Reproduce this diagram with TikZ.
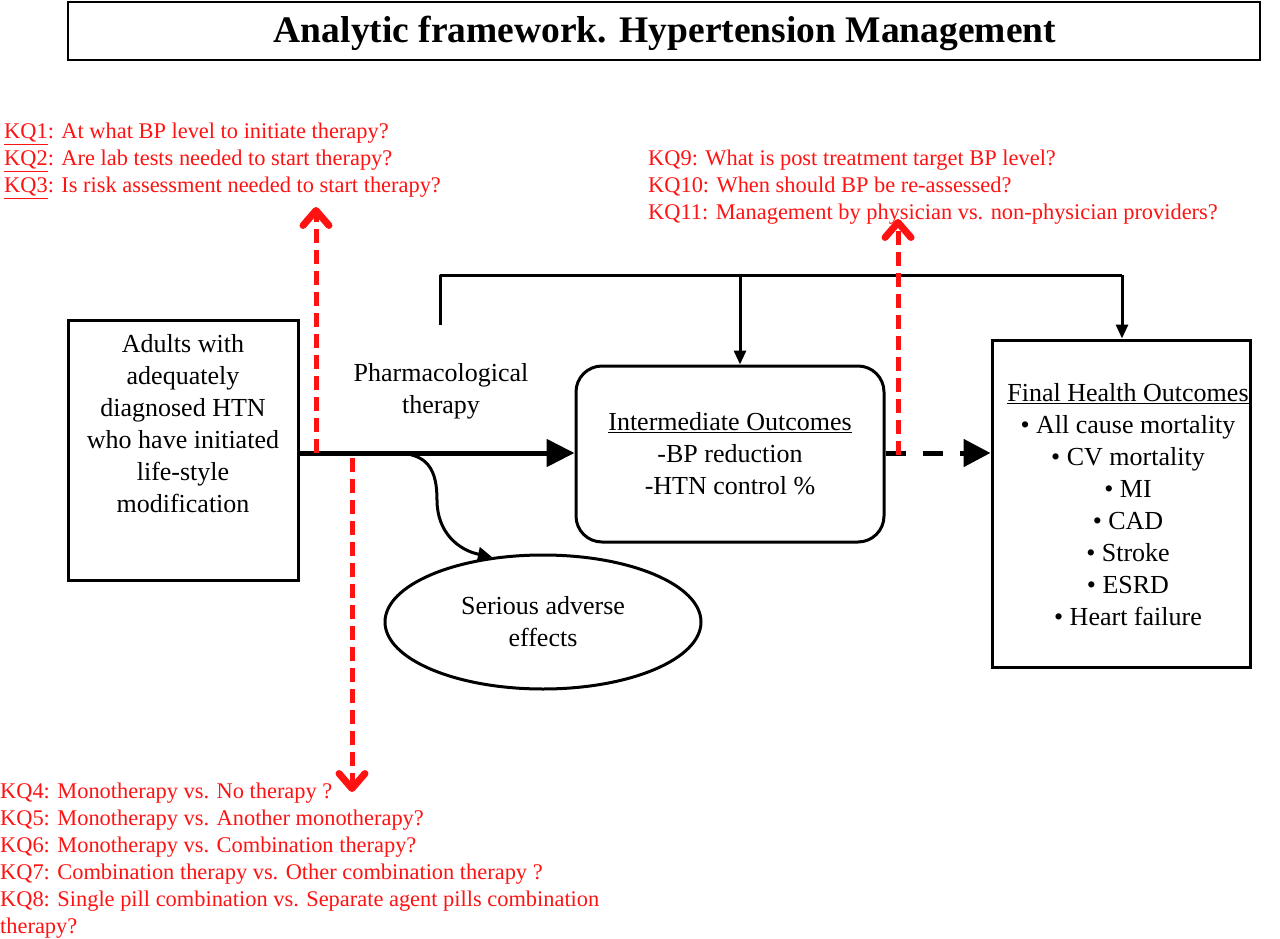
\documentclass[tikz,border=0pt]{standalone}
\usepackage{fontspec}
\setmainfont{Liberation Serif}
\usetikzlibrary{arrows.meta,shapes.geometric}
\definecolor{kqred}{RGB}{255,18,18}
\tikzset{
  box/.style={draw=black, line width=3pt, inner sep=0pt},
  body/.style={font=\fontsize{26}{32}\selectfont, align=center, inner sep=0pt},
  kq/.style={text=kqred, font=\fontsize{22.4}{27}\selectfont, align=left, inner sep=0pt, anchor=north west},
  reddash/.style={draw=kqred, line width=5pt, dash pattern=on 14pt off 7pt,
    -{Straight Barb[length=15pt,width=26pt,line width=7pt,line cap=round,line join=round]}},
  thinarrow/.style={line width=3pt, -{Triangle[length=14pt,width=12pt]}},
}
\begin{document}
\begin{tikzpicture}[x=1pt,y=-1pt]
\useasboundingbox (0,0) rectangle (1280,939);
% title
\node[draw=black, line width=1.5pt, minimum width=1192pt, minimum height=58pt, inner sep=0pt] (titlebox) at (664,31) {};
\node[font=\fontsize{37.5}{44}\selectfont\bfseries, inner sep=0pt] (title) at (665,33) {Analytic framework. Hypertension Management};

% left box
\node[box, minimum width=230pt, minimum height=260pt] (adults) at (183,450) {};
\node[body] (adultstext) at (183,424) {Adults with\\adequately\\diagnosed HTN\\who have initiated\\life-style\\modification};

% pharmacological therapy
\node[body] (pharm) at (441,391) {Pharmacological\\therapy};

% intermediate
\node[box, rounded corners=26pt, minimum width=308pt, minimum height=176pt, body] (inter) at (730,454)
  {\underline{Intermediate Outcomes}\\-BP reduction\\-HTN control \%};

% final
\node[box, minimum width=258pt, minimum height=327pt] (final) at (1121,503.5) {};
\node[body] (finaltext) at (1128,505) {\underline{Final Health Outcomes}\\\textbullet\ All cause mortality\\\textbullet\ CV mortality\\\textbullet\ MI\\\textbullet\ CAD\\\textbullet\ Stroke\\\textbullet\ ESRD\\\textbullet\ Heart failure};

% ellipse
\node[draw=black, line width=3pt, ellipse, minimum width=316pt, minimum height=134pt, body] (adverse) at (543,622) {Serious adverse\\effects};

% main arrow
\coordinate (split) at (395,453);
\draw[line width=5pt, -{Triangle[length=28pt,width=27pt]}] (adults.east |- split) -- (inter.west |- split);
% curve to ellipse
\coordinate (advtop) at (492,557);
\draw[line width=3pt, -{Triangle[length=14pt,width=14pt]}] (split) .. controls (428,453) and (437,470) .. (437,500) .. controls (437,532) and (458,550) .. (advtop);

% dashed black arrow
\coordinate (dstart) at (884,453);
\draw[line width=5pt, dash pattern=on 20pt off 17pt, -{Triangle[length=27pt,width=27pt]}] (inter.east |- dstart) -- (final.west |- dstart);

% bracket
\coordinate (bstart) at (440,325);
\coordinate (bl) at (440,275);
\coordinate (bm) at (740,275);
\coordinate (br) at (1122,275);
\draw[line width=3pt, line join=round] (bstart) -- (bl) -- (br);
\draw[thinarrow] (br) -- (final.north -| br);
\draw[thinarrow] (bm) -- (inter.north -| bm);

% red dashed arrows
\coordinate (r1s) at (316,453);
\coordinate (r1e) at (316,207);
\coordinate (r2s) at (352,458);
\coordinate (r2e) at (352,792);
\coordinate (r3s) at (898,455);
\coordinate (r3e) at (898,219);
\draw[reddash] (r1s) -- (r1e);
\draw[reddash] (r2s) -- (r2e);
\draw[reddash] (r3s) -- (r3e);

% KQ texts
\node[kq] (kq13) at (4,123) {\underline{KQ1}: At what BP level to initiate therapy?\\\underline{KQ2}: Are lab tests needed to start therapy?\\\underline{KQ3}: Is risk assessment needed to start therapy?};
\node[kq] (kq911) at (648,150) {KQ9: What is post treatment target BP level?\\KQ10: When should BP be re-assessed?\\KQ11: Management by physician vs. non-physician providers?};
\node[kq] (kq48) at (0,783) {KQ4: Monotherapy vs. No therapy ?\\KQ5: Monotherapy vs. Another monotherapy?\\KQ6: Monotherapy vs. Combination therapy?\\KQ7: Combination therapy vs. Other combination therapy ?\\KQ8: Single pill combination vs. Separate agent pills combination\\therapy?};
\end{tikzpicture}
\end{document}
